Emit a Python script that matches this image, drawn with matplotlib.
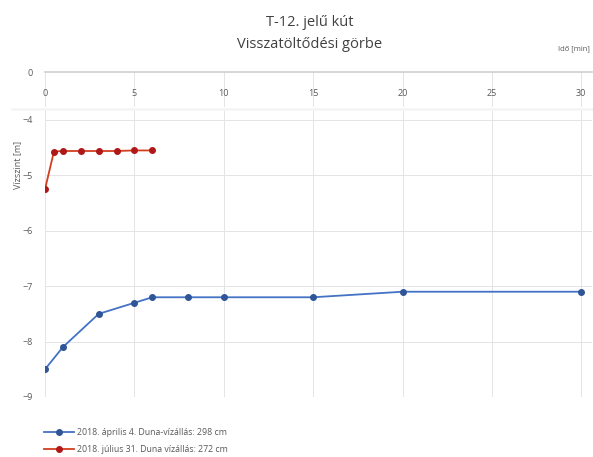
import matplotlib.pyplot as plt
import numpy as np

plt.rcParams['font.family'] = ['Open Sans', 'DejaVu Sans']

# 2018. április 4.
t_apr = [0, 1, 3, 5, 6, 8, 10, 15, 20, 30]
h_apr = [-8.5, -8.1, -7.5, -7.3, -7.2, -7.2, -7.2, -7.2, -7.1, -7.1]
# 2018. július 31.
t_jul = [0, 0.5, 1, 2, 3, 4, 5, 6]
h_jul = [-5.25, -4.57, -4.56, -4.56, -4.56, -4.56, -4.55, -4.55]

lbl_apr = "2018. április 4. Duna-vízállás: 298 cm"
lbl_jul = "2018. július 31. Duna vízállás: 272 cm"
x_ticks = [0, 5, 10, 15, 20, 25, 30]
y_ticks = [-4, -5, -6, -7, -8, -9]

W, H = 593, 457
fig = plt.figure(figsize=(W / 100, H / 100), dpi=100)
fig.patch.set_facecolor("white")

def box(x0, y0, x1, y1):
    return [x0 / W, 1 - y1 / H, (x1 - x0) / W, (y1 - y0) / H]

grid_c = "#e4e4e4"
txt_c = "#595959"
xmax = 30.6

# upper strip (0 ... cut)
ax_top = fig.add_axes(box(45, 72, 592, 107))
ax_top.set_xlim(0, xmax)
ax_top.set_ylim(-0.65, 0)
for s in ["left", "right", "bottom"]:
    ax_top.spines[s].set_visible(False)
ax_top.spines["top"].set_color("#d0d0d0")
ax_top.spines["top"].set_linewidth(1.2)
ax_top.set_yticks([0])
ax_top.set_yticklabels(["0"])
ax_top.set_xticks(x_ticks)
ax_top.tick_params(axis="both", length=0, labelsize=6.5, colors=txt_c)
ax_top.tick_params(axis="x", pad=-13)
ax_top.tick_params(axis="y", pad=9)
ax_top.grid(axis="x", color=grid_c, linewidth=0.7)

# faint band where the picture was cut
fig.add_artist(plt.Line2D([0.02, 1], [1 - 109 / H] * 2, color="#f5f5f5",
                          linewidth=2))

# main part
ax = fig.add_axes(box(45, 110, 592, 397))
ax.set_xlim(0, xmax)
ax.set_ylim(-9, -3.82)
for s in ax.spines.values():
    s.set_visible(False)
ax.set_xticks(x_ticks)
ax.set_xticklabels([])
ax.set_yticks(y_ticks)
ax.tick_params(axis="both", length=0, labelsize=6.5, colors=txt_c)
ax.tick_params(axis="y", pad=9)
ax.grid(True, color=grid_c, linewidth=0.7)
ax.set_axisbelow(True)

ax.plot(t_apr, h_apr, color="#4472c4", linewidth=1.3, marker="o",
        markersize=4, markerfacecolor="#2f5597", markeredgecolor="#2f5597",
        label=lbl_apr)
ax.plot(t_jul, h_jul, color="#d0401e", linewidth=1.3, marker="o",
        markersize=4, markerfacecolor="#b01818", markeredgecolor="#b01818",
        label=lbl_jul)

fig.text(18 / W, 1 - 165 / H, "Vízszint [m]", rotation=90, ha="center",
         va="center", fontsize=6.5, color=txt_c)
fig.text(310 / W, 1 - 22 / H, "T-12. jelű kút", ha="center", va="center",
         fontsize=10.5, color="#404040")
fig.text(310 / W, 1 - 45 / H, "Visszatöltődési görbe", ha="center",
         va="center", fontsize=10.5, color="#404040")
fig.text(590 / W, 1 - 49 / H, "Idő [min]", ha="right", va="center",
         fontsize=5.5, color=txt_c)

h, l = ax.get_legend_handles_labels()
leg = fig.legend(h, l, loc="upper left", bbox_to_anchor=(36 / W, 1 - 420 / H),
                 frameon=False, fontsize=6.3, handlelength=3.4,
                 handletextpad=0.4, labelspacing=0.95)
for t in leg.get_texts():
    t.set_color(txt_c)

fig.savefig("out.png", dpi=100)
